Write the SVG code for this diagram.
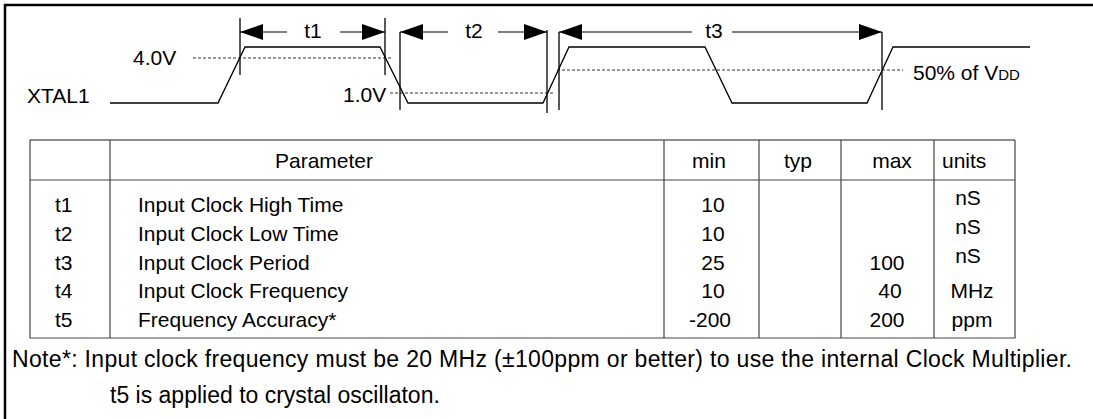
<svg xmlns="http://www.w3.org/2000/svg" width="1093" height="419" viewBox="0 0 1093 419">
<style>
  text { font-family: "Liberation Sans", Arial, sans-serif; fill: #000; }
  .lbl { font-size: 21px; }
  .tbl { font-size: 21px; }
  .note { font-size: 23px; }
  .c { text-anchor: middle; }
  .wave { fill: none; stroke: #000; stroke-width: 1.3; }
  .dash { fill: none; stroke: #333; stroke-width: 1; stroke-dasharray: 3 2; }
  .tick { fill: none; stroke: #000; stroke-width: 1.3; }
  .dim { fill: none; stroke: #000; stroke-width: 1.2; }
  .grid { fill: none; stroke: #444; stroke-width: 1.2; }
</style>
<defs>
  <marker id="ah" viewBox="0 0 23 16" refX="23" refY="8" markerWidth="23" markerHeight="16" markerUnits="userSpaceOnUse" orient="auto">
    <path d="M0,0 L23,8 L0,16 Z" fill="#000"/>
  </marker>
</defs>
<rect width="1093" height="419" fill="#fff"/>
<g id="frame">
  <path d="M5,419 V5 H1093" fill="none" stroke="#000" stroke-width="2.5"/>
</g>
<g id="waveform">
  <path class="wave" d="M110,103 H218 L245,47 H380 L408,103 H543 L569,47 H705 L732,103 H867 L893,47 H1030"/>
  <path class="dash" d="M193,58 H392"/>
  <path class="dash" d="M390,93 H555"/>
  <path class="dash" d="M557,70 H903"/>
</g>
<g id="connectors">
  <path class="tick" d="M240,18 V75 M385,18 V75 M400,32 V110 M547,30 V113 M559,32 V110 M882,32 V110"/>
  <path class="dim" d="M287,32 H240" marker-end="url(#ah)"/>
  <path class="dim" d="M340,32 H385" marker-end="url(#ah)"/>
  <path class="dim" d="M448,32 H400" marker-end="url(#ah)"/>
  <path class="dim" d="M498,32 H547" marker-end="url(#ah)"/>
  <path class="dim" d="M692,32 H559" marker-end="url(#ah)"/>
  <path class="dim" d="M732,32 H882" marker-end="url(#ah)"/>
</g>
<g id="labels">
  <text class="lbl" x="27" y="103">XTAL1</text>
  <text class="lbl" x="133" y="65">4.0V</text>
  <text class="lbl" x="343" y="102">1.0V</text>
  <text class="lbl" x="913" y="80">50% of V<tspan font-size="15">DD</tspan></text>
  <text class="lbl c" x="313" y="38">t1</text>
  <text class="lbl c" x="474" y="38">t2</text>
  <text class="lbl c" x="714" y="38">t3</text>
</g>
<g id="table">
  <path d="M30,140 H1015" fill="none" stroke="#8c8c8c" stroke-width="1.8"/>
  <path class="grid" d="M30,140 V338 H1015 V140 M30,180 H1015 M110,140 V338 M664,140 V338 M759,140 V338 M841,140 V338 M934,140 V338"/>
  <text class="tbl" x="275" y="168">Parameter</text>
  <text class="tbl c" x="709" y="168">min</text>
  <text class="tbl c" x="798" y="168">typ</text>
  <text class="tbl c" x="892" y="168">max</text>
  <text class="tbl" x="942" y="168">units</text>

  <text class="tbl" x="55" y="212">t1</text>
  <text class="tbl" x="55" y="241">t2</text>
  <text class="tbl" x="55" y="270">t3</text>
  <text class="tbl" x="55" y="298">t4</text>
  <text class="tbl" x="55" y="327">t5</text>

  <text class="tbl" x="138" y="212">Input Clock High Time</text>
  <text class="tbl" x="138" y="241">Input Clock Low Time</text>
  <text class="tbl" x="138" y="270">Input Clock Period</text>
  <text class="tbl" x="138" y="298">Input Clock Frequency</text>
  <text class="tbl" x="138" y="327">Frequency Accuracy*</text>

  <text class="tbl c" x="713" y="212">10</text>
  <text class="tbl c" x="713" y="241">10</text>
  <text class="tbl c" x="713" y="270">25</text>
  <text class="tbl c" x="713" y="298">10</text>
  <text class="tbl c" x="710" y="327">-200</text>

  <text class="tbl c" x="887" y="270">100</text>
  <text class="tbl c" x="890" y="298">40</text>
  <text class="tbl c" x="887" y="327">200</text>

  <text class="tbl c" x="968" y="205">nS</text>
  <text class="tbl c" x="968" y="234">nS</text>
  <text class="tbl c" x="968" y="263">nS</text>
  <text class="tbl c" x="972" y="298">MHz</text>
  <text class="tbl c" x="972" y="327">ppm</text>
</g>
<g id="note">
  <text class="note" x="12" y="367" textLength="1060" lengthAdjust="spacing">Note*:  Input clock frequency must be 20 MHz (±100ppm or better) to use the internal Clock Multiplier.</text>
  <text class="note" x="110" y="403">t5 is applied to crystal oscillaton.</text>
</g>
</svg>
